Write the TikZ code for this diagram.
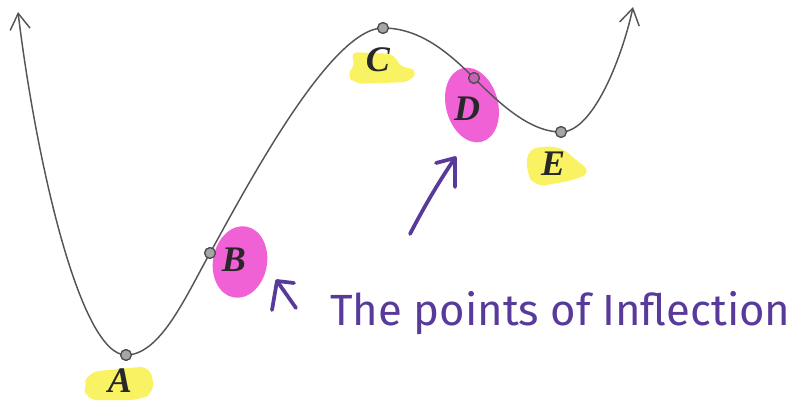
\documentclass[tikz,border=0pt]{standalone}
\usepackage{fontspec}
\setmainfont{Liberation Serif}
\newfontfamily\handfont{Fira Sans}
\usetikzlibrary{arrows.meta}
\definecolor{hilite}{RGB}{248,240,70}
\definecolor{pinkhl}{RGB}{240,80,210}
\definecolor{ink}{RGB}{88,58,155}
\definecolor{curvec}{RGB}{85,85,85}
\definecolor{labelc}{RGB}{40,40,40}
\begin{document}
\begin{tikzpicture}[x=0.75pt,y=-0.75pt,
  dotnode/.style={circle,inner sep=0pt,minimum size=8pt,fill=gray!70,draw=black!70,line width=0.9pt},
  lbl/.style={font=\fontsize{27}{27}\selectfont\bfseries\itshape,text=labelc,inner sep=0pt},
  curveline/.style={draw=curvec,line width=1.1pt},
  inkline/.style={draw=ink,line width=2.8pt,line cap=round,line join=round},
  yblob/.style={fill=hilite,opacity=0.85},
  pblob/.style={fill=pinkhl,opacity=0.9}]
\useasboundingbox (0,0) rectangle (796,400);
% highlights
\fill[yblob,rounded corners=8pt] (88,372) -- (150,366) -- (155,392) -- (140,400) -- (86,400) -- (84,386) -- cycle;
\fill[yblob,rounded corners=6pt] (350,52) -- (395,54) -- (398,66) -- (418,70) -- (410,82) -- (355,84) -- (346,74) -- (356,66) -- cycle;
\fill[yblob,rounded corners=8pt] (528,148) -- (560,146) -- (576,160) -- (592,172) -- (575,180) -- (535,187) -- (526,172) -- cycle;
\fill[pblob,rotate around={-10:(240,262)}] (240,262) ellipse [x radius=27, y radius=36];
\fill[pblob,rotate around={15:(472,105)}] (472,105) ellipse [x radius=26, y radius=38];
% points
\node[dotnode] (A) at (126,355) {};
\node[dotnode] (B) at (210,253) {};
\node[dotnode] (C) at (383,28) {};
\node[dotnode,fill=pinkhl!60!gray] (D) at (474,78) {};
\node[dotnode] (E) at (561,132) {};
\coordinate (tipL) at (18,12);
\coordinate (tipR) at (633,7);
% curve
\draw[curveline,{Straight Barb[length=12pt,width=15pt,line width=1.1pt]}-{Straight Barb[length=12pt,width=15pt,line width=1.1pt]}]
  (tipL) .. controls (36,160) and (80,355) .. (A.center)
  .. controls (160,355) and (185,298) .. (B.center)
  .. controls (245,190) and (330,28) .. (C.center)
  .. controls (420,28) and (449,53) .. (D.center)
  .. controls (500,104) and (530,132) .. (E.center)
  .. controls (595,132) and (624,50) .. (tipR);
% redraw dots on top
\node[dotnode] at (A) {};
\node[dotnode] at (B) {};
\node[dotnode] at (C) {};
\node[dotnode,fill=pinkhl!60!gray] at (D) {};
\node[dotnode] at (E) {};
% labels
\node[lbl] (lA) at (120,381) {A};
\node[lbl] (lB) at (234,260) {B};
\node[lbl] (lC) at (378,60) {C};
\node[lbl] (lD) at (467,109) {D};
\node[lbl] (lE) at (553,164) {E};
% handwritten note
\node[anchor=base west,inner sep=0pt,text=ink] (note) at (330,325)
  {\resizebox{345pt}{!}{\handfont The points of Inflection}};
% small arrow to B
\coordinate (b1) at (296,308);
\coordinate (b2) at (277,281);
\coordinate (b3) at (272,310);
\coordinate (b4) at (294,283);
\draw[inkline] (b1) -- (b2);
\draw[inkline] (b3) -- (b2) -- (b4);
% arrow to D
\coordinate (d1) at (410,234);
\coordinate (d2) at (455,158);
\coordinate (d3) at (436,163);
\coordinate (d4) at (455,187);
\draw[inkline] (d1) .. controls (425,205) and (440,180) .. (d2);
\draw[inkline] (d3) -- (d2) -- (d4);
\end{tikzpicture}
\end{document}
